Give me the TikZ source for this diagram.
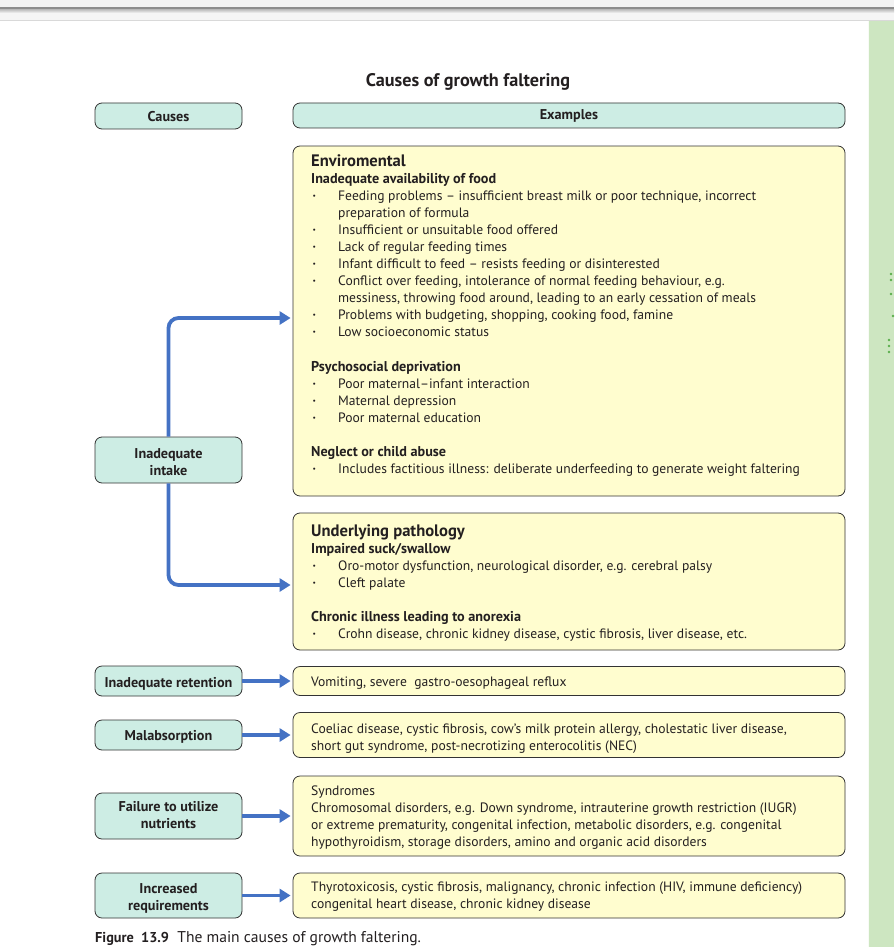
\documentclass[tikz,border=0pt]{standalone}
\usepackage{fontspec}
\setmainfont{PT Sans}
\usetikzlibrary{arrows.meta}
\definecolor{txt}{HTML}{231F20}
\definecolor{hdrfill}{HTML}{CDEDE4}
\definecolor{exfill}{HTML}{FFFDCF}
\definecolor{arrblue}{HTML}{4472C4}
\definecolor{stripgreen}{HTML}{CDE6C1}
\definecolor{dotgreen}{HTML}{5BAE4C}
\newcommand\bl[1]{\par\hangindent=27pt\hangafter=1\noindent\makebox[27pt][l]{\hspace{1.5pt}\raisebox{0.15ex}{\scalebox{0.55}{\textbullet}}}#1\par}
\newcommand\bodyfont{\fontsize{13.6}{17}\selectfont}
\newcommand\subhead[1]{{\fontsize{14.2}{17}\selectfont\bfseries #1}\par}
\newcommand\mainhead[1]{{\fontsize{16.6}{17}\selectfont\bfseries #1}\par}
\newcommand\para[1]{\begin{minipage}[t]{540pt}\bodyfont\parindent=0pt\parskip=0pt #1\end{minipage}}
\newcommand\shiftlbl[2]{\raisebox{#1}[\height][\depth]{#2}}
\newcommand\twolines[3]{\shiftlbl{#1}{\begin{tabular}{@{}c@{}}#2\\#3\end{tabular}}}
\tikzset{
  causebox/.style={draw=black!80, line width=0.8pt, fill=hdrfill, rounded corners=7pt,
     minimum width=147pt, align=center, text=txt, font=\fontsize{14.2}{17}\selectfont\bfseries, inner sep=0pt},
  exbox/.style={draw=black!80, line width=0.8pt, fill=exfill, rounded corners=7pt, minimum width=552pt, inner sep=0pt},
  bodytext/.style={anchor=base west, inner sep=0pt, text=txt, font=\bodyfont},
  arr/.style={draw=arrblue, line width=3.8pt, -{Triangle[length=11pt,width=13pt]}, shorten >=2pt},
}
\begin{document}
\begin{tikzpicture}[x=1pt,y=-1pt]
\useasboundingbox (0,0) rectangle (894,947);
% top bar
\fill[white] (0,0) rectangle (894,947);
\fill[black!5] (0,0) rectangle (894,7);
\fill[black!45] (0,7.5) rectangle (894,9.5);
\shade[top color=black!25, bottom color=black!4] (0,9.5) rectangle (894,13);
\fill[black!4] (0,13) rectangle (894,20);
\draw[black!15, line width=1pt] (0,20.5) -- (894,20.5);
% green strip
\fill[stripgreen] (868,21) rectangle (894,947);
\draw[white!85!stripgreen, line width=1pt] (868.5,21) -- (868.5,947);
\foreach \yy/\xx in {274/891,280/891,294/891,316/893,340/889,346/889,352/889}
  \fill[dotgreen] (\xx,\yy) circle (1.3pt);

% title
\node[text=txt, font=\fontsize{18.2}{20}\selectfont\bfseries] (title) at (468,81.5) {Causes of growth faltering};

% headers
\node[causebox, minimum height=26pt] (hcauses) at (168.5,116) {\shiftlbl{-0.5pt}{Causes}};
\node[exbox, fill=hdrfill, minimum height=25pt, text=txt, font=\fontsize{14.2}{17}\selectfont\bfseries] (hex) at (569,115.5) {\shiftlbl{-0.5pt}{Examples}};

% example boxes
\node[exbox, minimum height=350pt] (envbox) at (569,321) {};
\node[exbox, minimum height=137pt] (patbox) at (569,581.5) {};
\node[exbox, minimum height=29pt] (retbox) at (569,681) {};
\node[exbox, minimum height=45pt] (malbox) at (569,735) {};
\node[exbox, minimum height=80pt] (failbox) at (569,816) {};
\node[exbox, minimum height=45pt] (incbox) at (569,895.5) {};

% cause boxes
\node[causebox, minimum height=46pt] (intake) at (168.5,460) {\twolines{-4pt}{Inadequate}{intake}};
\node[causebox, minimum height=30pt] (retention) at (168.5,681) {\shiftlbl{-3pt}{Inadequate retention}};
\node[causebox, minimum height=30pt] (malab) at (168.5,735) {\shiftlbl{-2pt}{Malabsorption}};
\node[causebox, minimum height=46pt] (failure) at (168.5,816) {\twolines{-1pt}{Failure to utilize}{nutrients}};
\node[causebox, minimum height=45pt] (increased) at (168.5,895.5) {\twolines{-3pt}{Increased}{requirements}};

% texts
\node[bodytext] (envtext) at (311,166) {\para{%
\mainhead{Enviromental}
\subhead{Inadequate availability of food}
\bl{Feeding problems – insufficient breast milk or poor technique, incorrect\\preparation of formula}
\bl{Insufficient or unsuitable food offered}
\bl{Lack of regular feeding times}
\bl{Infant difficult to feed – resists feeding or disinterested}
\bl{Conflict over feeding, intolerance of normal feeding behaviour, e.g.\\messiness, throwing food around, leading to an early cessation of meals}
\bl{Problems with budgeting, shopping, cooking food, famine}
\bl{Low socioeconomic status}
\vspace{18pt}
\subhead{Psychosocial deprivation}
\bl{Poor maternal–infant interaction}
\bl{Maternal depression}
\bl{Poor maternal education}
\vspace{17pt}
\subhead{Neglect or child abuse}
\bl{Includes factitious illness: deliberate underfeeding to generate weight faltering}}};

\node[bodytext] (pattext) at (311,536) {\para{%
\mainhead{Underlying pathology}
\subhead{Impaired suck/swallow}
\bl{Oro-motor dysfunction, neurological disorder, e.g. cerebral palsy}
\bl{Cleft palate}
\vspace{17pt}
\subhead{Chronic illness leading to anorexia}
\bl{Crohn disease, chronic kidney disease, cystic fibrosis, liver disease, etc.}}};

\node[bodytext] (rettext) at (311,686) {Vomiting, severe\ \ gastro-oesophageal reflux};
\node[bodytext] (maltext) at (311,733) {\para{Coeliac disease, cystic fibrosis, cow’s milk protein allergy, cholestatic liver disease,\\short gut syndrome, post-necrotizing enterocolitis (NEC)}};
\node[bodytext] (failtext) at (311,795) {\para{Syndromes\\Chromosomal disorders, e.g. Down syndrome, intrauterine growth restriction (IUGR)\\or extreme prematurity, congenital infection, metabolic disorders, e.g. congenital\\hypothyroidism, storage disorders, amino and organic acid disorders}};
\node[bodytext] (inctext) at (311,891) {\para{Thyrotoxicosis, cystic fibrosis, malignancy, chronic infection (HIV, immune deficiency)\\congenital heart disease, chronic kidney disease}};

% arrows
\draw[arr, rounded corners=10pt] (intake.north) |- ([yshift=3pt]envbox.west);
\draw[arr, rounded corners=10pt] (intake.south) |- ([yshift=-3.5pt]patbox.west);
\draw[arr] (retention.east) -- (retention.east -| retbox.west);
\draw[arr] (malab.east) -- (malab.east -| malbox.west);
\draw[arr] (failure.east) -- (failure.east -| failbox.west);
\draw[arr] (increased.east) -- (increased.east -| incbox.west);

% caption
\node[anchor=base west, inner sep=0pt, text=txt, font=\fontsize{15.6}{18}\selectfont] (caption) at (95,942) {{\fontsize{14.3}{18}\selectfont\bfseries Figure\ \ 13.9}\ \ The main causes of growth faltering.};
\end{tikzpicture}
\end{document}
